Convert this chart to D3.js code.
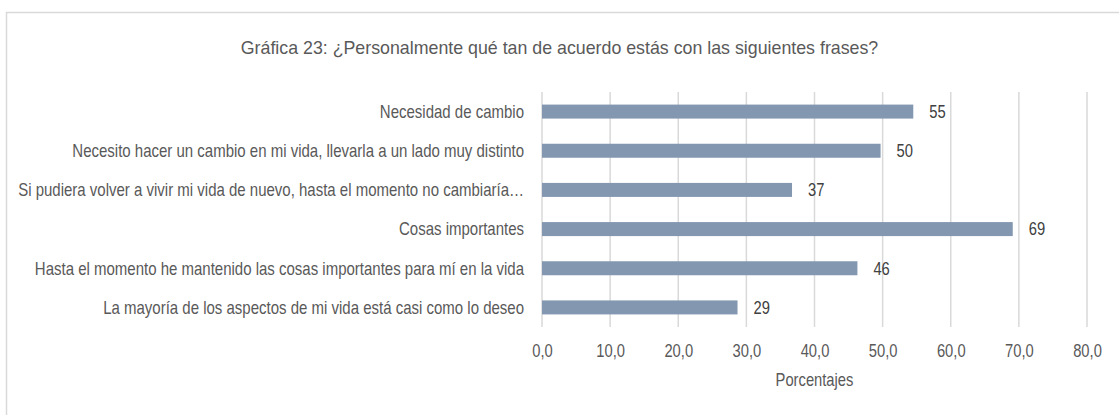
<!DOCTYPE html>
<html>
<head>
<meta charset="utf-8">
<script src="https://cdn.jsdelivr.net/npm/d3@7"></script>
<style>
  body { margin: 0; background: #fff; }
  svg text { font-family: "Liberation Sans", Arial, sans-serif; }
</style>
</head>
<body>
<div id="chart"></div>
<script>
// Chart data
const categories = [
  'Necesidad de cambio',
  'Necesito hacer un cambio en mi vida, llevarla a un lado muy distinto',
  'Si pudiera volver a vivir mi vida de nuevo, hasta el momento no cambiaría…',
  'Cosas importantes',
  'Hasta el momento he mantenido las cosas importantes para mí en la vida',
  'La mayoría de los aspectos de mi vida está casi como lo deseo'
];
const values = [54.5, 49.7, 36.7, 69.1, 46.3, 28.7];
const xTicks = [0, 10, 20, 30, 40, 50, 60, 70, 80];

const width = 1119, height = 415;
const margin = { top: 92, right: 32, bottom: 88, left: 542 };
// no narrow font installed, so squeeze the sans horizontally
const narrow = 0.82;

const svg = d3.select('#chart')
  .append('svg')
  .attr('width', width)
  .attr('height', height);

// outer frame (only the top and left edges are visible)
svg.append('rect')
  .attr('x', 6.5).attr('y', 12.5)
  .attr('width', width + 20).attr('height', height + 20)
  .attr('fill', 'none')
  .attr('stroke', '#d9d9d9')
  .attr('stroke-width', 1.5);

const x = d3.scaleLinear()
  .domain([0, 80])
  .range([margin.left, width - margin.right]);

const y = d3.scaleBand()
  .domain(categories)
  .range([margin.top, height - margin.bottom]);

const barH = 14;
const squeeze = (px, py) => `translate(${px},${py}) scale(${narrow},1)`;

// title
svg.append('text')
  .attr('x', width / 2)
  .attr('y', 54)
  .attr('text-anchor', 'middle')
  .attr('font-size', '17.8px')
  .attr('fill', '#595959')
  .text('Gráfica 23: ¿Personalmente qué tan de acuerdo estás con las siguientes frases?');

// gridlines
svg.append('g')
  .selectAll('line')
  .data(xTicks)
  .join('line')
  .attr('x1', d => x(d)).attr('x2', d => x(d))
  .attr('y1', margin.top).attr('y2', height - margin.bottom)
  .attr('stroke', '#d9d9d9')
  .attr('stroke-width', 1.5);

// x axis labels
const xAxis = svg.append('g')
  .attr('transform', `translate(0,${height - margin.bottom})`)
  .call(d3.axisBottom(x).tickValues(xTicks).tickSize(0)
    .tickFormat(d => d3.format('.1f')(d).replace('.', ',')));
xAxis.select('.domain').remove();
xAxis.selectAll('.tick text')
  .attr('y', null)
  .attr('dy', null)
  .attr('transform', squeeze(0, 30))
  .attr('font-size', '18px')
  .attr('fill', '#595959')
  .style('font-family', null);
xAxis.attr('font-family', null).attr('font-size', null);

// axis title
svg.append('text')
  .attr('transform', squeeze((x(0) + x(80)) / 2, 386))
  .attr('text-anchor', 'middle')
  .attr('font-size', '18px')
  .attr('fill', '#595959')
  .text('Porcentajes');

// category labels
svg.append('g')
  .selectAll('text')
  .data(categories)
  .join('text')
  .attr('transform', d => squeeze(x(0) - 18, y(d) + y.bandwidth() / 2))
  .attr('dy', '0.35em')
  .attr('text-anchor', 'end')
  .attr('font-size', '18.3px')
  .attr('fill', '#595959')
  .text(d => d);

// bars
svg.append('g')
  .selectAll('rect')
  .data(values)
  .join('rect')
  .attr('x', x(0))
  .attr('y', (d, i) => y(categories[i]) + y.bandwidth() / 2 - barH / 2)
  .attr('width', d => x(d) - x(0))
  .attr('height', barH)
  .attr('fill', '#8497b0');

// value labels
svg.append('g')
  .selectAll('text')
  .data(values)
  .join('text')
  .attr('transform', (d, i) => squeeze(x(d) + 16, y(categories[i]) + y.bandwidth() / 2))
  .attr('dy', '0.35em')
  .attr('font-size', '18px')
  .attr('fill', '#404040')
  .text(d => Math.round(d));
</script>
</body>
</html>
